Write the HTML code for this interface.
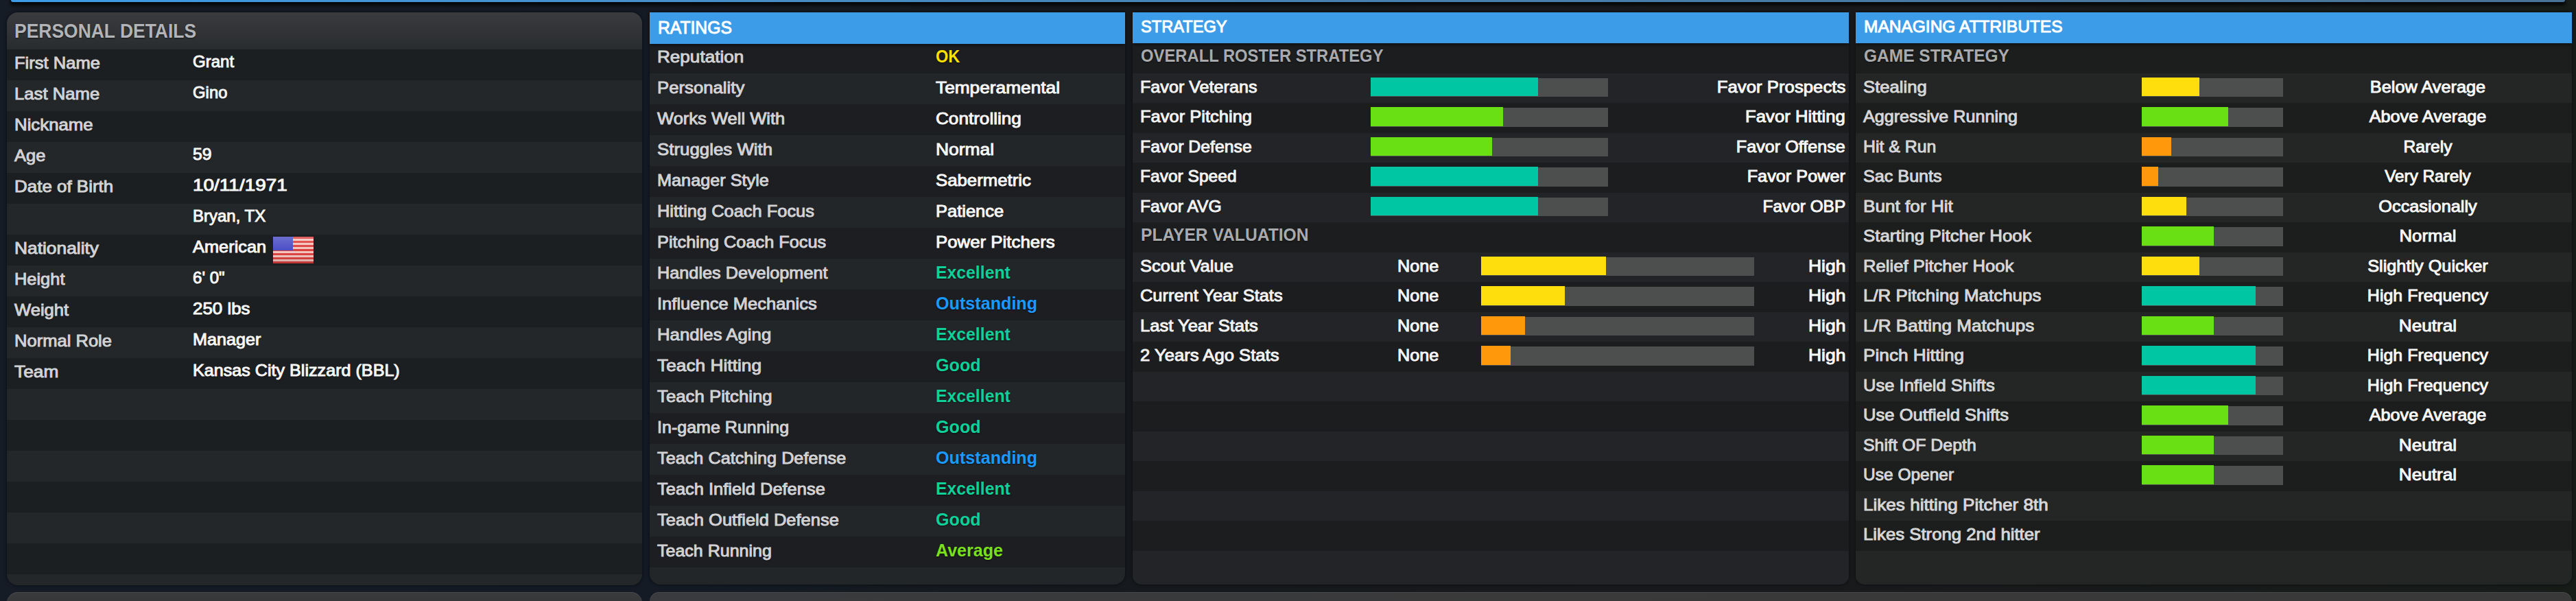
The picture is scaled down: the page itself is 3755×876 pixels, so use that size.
<!DOCTYPE html>
<html lang="en">
<head>
<meta charset="utf-8">
<title>Grant Gino - Manager Profile</title>
<style>
html,body{margin:0;padding:0}
body{width:3755px;height:876px;overflow:hidden;position:relative;background:linear-gradient(90deg,#151c26 0,#141b25 25%,#16191d 44%,#191a1c 72%,#171c19 100%);font-family:"Liberation Sans",sans-serif;font-size:24.5px;color:#f6f6f6;-webkit-text-stroke:1px currentColor;text-shadow:0 1px 2px rgba(0,0,0,.55)}
.topbar{position:absolute;left:16px;top:0;width:3723px;height:3px;border-radius:0 0 6px 6px;background:linear-gradient(90deg,#3c9ce8 0,#4690cc 25%,#467fae 55%,#4a7396 100%);box-shadow:0 1px 2px 1px #06080a,0 4px 4px 1px rgba(4,5,6,.9)}
.panel{position:absolute;top:18px;border-radius:16px;overflow:hidden;background:#1c1d20;box-shadow:0 0 5px rgba(0,0,0,.6)}
.p1{left:10px;width:926px;height:835px}
.p2{left:947px;width:693px;height:834px;border-radius:0 0 16px 16px}
.p3{left:1650.5px;width:1044px;height:834px;border-radius:0 0 13px 13px}
.p4{left:2704.5px;width:1044px;height:834px;border-radius:0 0 13px 13px}
.nb1{left:10px;top:863px;width:926px;height:60px;background:linear-gradient(#3a3b3d,#2a2c2f);box-shadow:inset 0 1px 0 #48494c}
.nb2{left:947px;top:862.5px;width:2801.5px;height:60px;border-radius:14px;background:linear-gradient(90deg,rgba(58,59,62,1),rgba(57,57,57,1) 60%) ;box-shadow:inset 0 1px 0 #48494c}
h2{margin:0;font-weight:normal;font-size:inherit}
.hd{position:absolute;left:0;top:0;right:0;box-sizing:border-box;white-space:nowrap}
.hd.grey{height:54px;background:linear-gradient(#3a3b3e,#292c2f);color:#b3b4b7;padding-left:11px;line-height:54.75px;font-size:29.5px;font-weight:bold;-webkit-text-stroke:0}
.hd.blue{height:44.6px;background:#3c9ce8;color:#fff;text-shadow:none;padding-left:12.5px;line-height:41.3px;box-shadow:0 2px 5px rgba(0,0,0,.55)}
.p2 .hd.blue{font-size:25px;height:46.1px;line-height:45px;padding-left:11.5px}
.rows{position:absolute;left:0;right:0}
.p1 .rows{top:54px}
.p2 .rows{top:44px}
.p3 .rows,.p4 .rows{top:45.3px}
.row{position:relative;white-space:nowrap;background:#1c1d20}
.row:nth-child(even){background:#232427}
.p1{background:#1c1f22}.p1 .row{background:#1c1f22}.p1 .row:nth-child(even){background:#23272a}
.p2{background:#1c1e21}.p2 .row{background:#1c1e21}.p2 .row:nth-child(even){background:#232629}
.p3{background:#232427}.p3 .row{background:#1c1d1f}.p3 .row:nth-child(even){background:#232427}
.p4{background:#242625}.p4 .row{background:#1c1e1d}.p4 .row:nth-child(even){background:#242625}
.r45 .row{height:45px;line-height:39.8px}
.p2 .row{line-height:42.2px}
.r43 .row{height:43.5px;line-height:39.9px}
.row span{position:absolute;top:0;transform-origin:0 50%}
.hd span{display:inline-block;transform-origin:0 50%}
.lab{left:11px;color:#d2d2d4}
.p3 .lab,.p4 .lab{left:11.5px;color:#f2f2f3}
.p4 .lab{color:#d6d6d7}
.val{left:270.5px;color:#f6f6f6;margin-top:-1.9px}
.p2 .val{left:417px;margin-top:0}
.flag{position:absolute;left:388px;top:3px}
.sub{left:12.5px;font-weight:bold;font-size:25px;color:#a9aaad;-webkit-text-stroke:0;margin-top:-1.7px}
.rt{right:4.5px;text-align:right;transform-origin:100% 50% !important}
.none{left:386.5px}
.ctr{left:634.7px;width:400px;text-align:center;transform-origin:50% 50% !important}
.bar{background:#4d4e4e;height:27.5px;top:7px !important}
.bar i{position:absolute;left:0;top:-1px;height:27.6px}
.b1{left:347.5px;width:345.5px}
.b2{left:508px;width:398px}
.b3{left:417px;width:206.5px}
.teal{background:#00c6a3}.green{background:#68e014}.yellow{background:#ffde0e}.orange{background:#ff980a}
.c-y{color:#ffe000}.c-w{color:#f6f6f6}.c-t{color:#10d099}.c-b{color:#1a9aff}.c-g{color:#7be01c}
.val.c-y,.val.c-t,.val.c-b,.val.c-g{font-weight:bold;font-size:25px;margin-top:-.6px;-webkit-text-stroke:0}

</style>
</head>
<body>
<div class="topbar"></div>
<section class="panel p1">
<h2 class="hd grey"><span style="transform:scaleX(0.897)">PERSONAL DETAILS</span></h2>
<div class="rows r45">
<div class="row"><span class="lab" style="transform:scaleX(1.043)">First Name</span><span class="val" style="transform:scaleX(0.982)">Grant</span></div>
<div class="row"><span class="lab" style="transform:scaleX(1.048)">Last Name</span><span class="val" style="transform:scaleX(0.975)">Gino</span></div>
<div class="row"><span class="lab" style="transform:scaleX(1.053)">Nickname</span></div>
<div class="row"><span class="lab" style="transform:scaleX(1.041)">Age</span><span class="val" style="transform:scaleX(1.013)">59</span></div>
<div class="row"><span class="lab" style="transform:scaleX(1.059)">Date of Birth</span><span class="val" style="transform:scaleX(1.141)">10/11/1971</span></div>
<div class="row"><span class="val" style="transform:scaleX(0.979)">Bryan, TX</span></div>
<div class="row"><span class="lab" style="transform:scaleX(1.075)">Nationality</span><span class="val" style="transform:scaleX(1.036)">American</span><svg class="flag" width="59" height="39" viewBox="0 0 59 39"><use href="#usflag"/></svg></div>
<div class="row"><span class="lab" style="transform:scaleX(1.037)">Height</span><span class="val" style="transform:scaleX(0.984)">6' 0&quot;</span></div>
<div class="row"><span class="lab" style="transform:scaleX(1.044)">Weight</span><span class="val" style="transform:scaleX(1.058)">250 lbs</span></div>
<div class="row"><span class="lab" style="transform:scaleX(1.043)">Normal Role</span><span class="val" style="transform:scaleX(1.029)">Manager</span></div>
<div class="row"><span class="lab" style="transform:scaleX(1.074)">Team</span><span class="val" style="transform:scaleX(1.026)">Kansas City Blizzard (BBL)</span></div>
<div class="row"></div>
<div class="row"></div>
<div class="row"></div>
<div class="row"></div>
<div class="row"></div>
<div class="row"></div>
<div class="row"></div>
</div>
</section>
<section class="panel p2">
<div class="rows r45">
<div class="row"><span class="lab" style="transform:scaleX(1.065)">Reputation</span><span class="val c-y" style="transform:scaleX(0.94)">OK</span></div>
<div class="row"><span class="lab" style="transform:scaleX(1.05)">Personality</span><span class="val c-w" style="transform:scaleX(1.072)">Temperamental</span></div>
<div class="row"><span class="lab" style="transform:scaleX(1.042)">Works Well With</span><span class="val c-w" style="transform:scaleX(1.066)">Controlling</span></div>
<div class="row"><span class="lab" style="transform:scaleX(1.055)">Struggles With</span><span class="val c-w" style="transform:scaleX(1.078)">Normal</span></div>
<div class="row"><span class="lab" style="transform:scaleX(1.031)">Manager Style</span><span class="val c-w" style="transform:scaleX(1.051)">Sabermetric</span></div>
<div class="row"><span class="lab" style="transform:scaleX(1.038)">Hitting Coach Focus</span><span class="val c-w" style="transform:scaleX(1.04)">Patience</span></div>
<div class="row"><span class="lab" style="transform:scaleX(1.033)">Pitching Coach Focus</span><span class="val c-w" style="transform:scaleX(1.054)">Power Pitchers</span></div>
<div class="row"><span class="lab" style="transform:scaleX(1.031)">Handles Development</span><span class="val c-t" style="transform:scaleX(0.991)">Excellent</span></div>
<div class="row"><span class="lab" style="transform:scaleX(1.042)">Influence Mechanics</span><span class="val c-b" style="transform:scaleX(1.006)">Outstanding</span></div>
<div class="row"><span class="lab" style="transform:scaleX(1.052)">Handles Aging</span><span class="val c-t" style="transform:scaleX(0.991)">Excellent</span></div>
<div class="row"><span class="lab" style="transform:scaleX(1.074)">Teach Hitting</span><span class="val c-t" style="transform:scaleX(1.005)">Good</span></div>
<div class="row"><span class="lab" style="transform:scaleX(1.052)">Teach Pitching</span><span class="val c-t" style="transform:scaleX(0.991)">Excellent</span></div>
<div class="row"><span class="lab" style="transform:scaleX(1.022)">In-game Running</span><span class="val c-t" style="transform:scaleX(1.005)">Good</span></div>
<div class="row"><span class="lab" style="transform:scaleX(1.031)">Teach Catching Defense</span><span class="val c-b" style="transform:scaleX(1.006)">Outstanding</span></div>
<div class="row"><span class="lab" style="transform:scaleX(1.039)">Teach Infield Defense</span><span class="val c-t" style="transform:scaleX(0.991)">Excellent</span></div>
<div class="row"><span class="lab" style="transform:scaleX(1.04)">Teach Outfield Defense</span><span class="val c-t" style="transform:scaleX(1.005)">Good</span></div>
<div class="row"><span class="lab" style="transform:scaleX(1.021)">Teach Running</span><span class="val c-g" style="transform:scaleX(1.002)">Average</span></div>
<div class="row"></div>
</div>
<h2 class="hd blue"><span style="transform:scaleX(0.987)">RATINGS</span></h2>
</section>
<section class="panel p3">
<div class="rows r43">
<div class="row"><span class="sub" style="transform:scaleX(0.952)">OVERALL ROSTER STRATEGY</span></div>
<div class="row"><span class="lab" style="transform:scaleX(1.026)">Favor Veterans</span><span class="bar b1"><i class="teal" style="width:243.6px"></i></span><span class="rt" style="transform:scaleX(1.052)">Favor Prospects</span></div>
<div class="row"><span class="lab" style="transform:scaleX(1.041)">Favor Pitching</span><span class="bar b1"><i class="green" style="width:192.6px"></i></span><span class="rt" style="transform:scaleX(1.05)">Favor Hitting</span></div>
<div class="row"><span class="lab" style="transform:scaleX(1.013)">Favor Defense</span><span class="bar b1"><i class="green" style="width:176.6px"></i></span><span class="rt" style="transform:scaleX(1.027)">Favor Offense</span></div>
<div class="row"><span class="lab" style="transform:scaleX(1.002)">Favor Speed</span><span class="bar b1"><i class="teal" style="width:243.6px"></i></span><span class="rt" style="transform:scaleX(1.031)">Favor Power</span></div>
<div class="row"><span class="lab" style="transform:scaleX(1.006)">Favor AVG</span><span class="bar b1"><i class="teal" style="width:243.6px"></i></span><span class="rt" style="transform:scaleX(0.996)">Favor OBP</span></div>
<div class="row"><span class="sub" style="transform:scaleX(0.985)">PLAYER VALUATION</span></div>
<div class="row"><span class="lab" style="transform:scaleX(1.043)">Scout Value</span><span class="none" style="transform:scaleX(1.029)">None</span><span class="bar b2"><i class="yellow" style="width:182.6px"></i></span><span class="rt" style="transform:scaleX(1.081)">High</span></div>
<div class="row"><span class="lab" style="transform:scaleX(1.037)">Current Year Stats</span><span class="none" style="transform:scaleX(1.029)">None</span><span class="bar b2"><i class="yellow" style="width:122.6px"></i></span><span class="rt" style="transform:scaleX(1.081)">High</span></div>
<div class="row"><span class="lab" style="transform:scaleX(1.043)">Last Year Stats</span><span class="none" style="transform:scaleX(1.029)">None</span><span class="bar b2"><i class="orange" style="width:64.6px"></i></span><span class="rt" style="transform:scaleX(1.081)">High</span></div>
<div class="row"><span class="lab" style="transform:scaleX(1.047)">2 Years Ago Stats</span><span class="none" style="transform:scaleX(1.029)">None</span><span class="bar b2"><i class="orange" style="width:43.6px"></i></span><span class="rt" style="transform:scaleX(1.081)">High</span></div>
<div class="row"></div>
<div class="row"></div>
<div class="row"></div>
<div class="row"></div>
<div class="row"></div>
<div class="row"></div>
<div class="row"></div>
</div>
<h2 class="hd blue"><span style="transform:scaleX(0.964)">STRATEGY</span></h2>
</section>
<section class="panel p4">
<div class="rows r43">
<div class="row"><span class="sub" style="transform:scaleX(0.98)">GAME STRATEGY</span></div>
<div class="row"><span class="lab" style="transform:scaleX(1.048)">Stealing</span><span class="bar b3"><i class="yellow" style="width:84.6px"></i></span><span class="ctr" style="transform:scaleX(1.033)">Below Average</span></div>
<div class="row"><span class="lab" style="transform:scaleX(1.026)">Aggressive Running</span><span class="bar b3"><i class="green" style="width:126.6px"></i></span><span class="ctr" style="transform:scaleX(1.028)">Above Average</span></div>
<div class="row"><span class="lab" style="transform:scaleX(1.014)">Hit &amp; Run</span><span class="bar b3"><i class="orange" style="width:43.6px"></i></span><span class="ctr" style="transform:scaleX(1.004)">Rarely</span></div>
<div class="row"><span class="lab" style="transform:scaleX(1.027)">Sac Bunts</span><span class="bar b3"><i class="orange" style="width:24.6px"></i></span><span class="ctr" style="transform:scaleX(0.991)">Very Rarely</span></div>
<div class="row"><span class="lab" style="transform:scaleX(1.068)">Bunt for Hit</span><span class="bar b3"><i class="yellow" style="width:65.6px"></i></span><span class="ctr" style="transform:scaleX(1.032)">Occasionally</span></div>
<div class="row"><span class="lab" style="transform:scaleX(1.057)">Starting Pitcher Hook</span><span class="bar b3"><i class="green" style="width:105.6px"></i></span><span class="ctr" style="transform:scaleX(1.051)">Normal</span></div>
<div class="row"><span class="lab" style="transform:scaleX(1.046)">Relief Pitcher Hook</span><span class="bar b3"><i class="yellow" style="width:84.6px"></i></span><span class="ctr" style="transform:scaleX(1.031)">Slightly Quicker</span></div>
<div class="row"><span class="lab" style="transform:scaleX(1.058)">L/R Pitching Matchups</span><span class="bar b3"><i class="teal" style="width:166.6px"></i></span><span class="ctr" style="transform:scaleX(1.019)">High Frequency</span></div>
<div class="row"><span class="lab" style="transform:scaleX(1.064)">L/R Batting Matchups</span><span class="bar b3"><i class="green" style="width:105.6px"></i></span><span class="ctr" style="transform:scaleX(1.068)">Neutral</span></div>
<div class="row"><span class="lab" style="transform:scaleX(1.07)">Pinch Hitting</span><span class="bar b3"><i class="teal" style="width:166.6px"></i></span><span class="ctr" style="transform:scaleX(1.019)">High Frequency</span></div>
<div class="row"><span class="lab" style="transform:scaleX(1.043)">Use Infield Shifts</span><span class="bar b3"><i class="teal" style="width:166.6px"></i></span><span class="ctr" style="transform:scaleX(1.019)">High Frequency</span></div>
<div class="row"><span class="lab" style="transform:scaleX(1.045)">Use Outfield Shifts</span><span class="bar b3"><i class="green" style="width:126.6px"></i></span><span class="ctr" style="transform:scaleX(1.028)">Above Average</span></div>
<div class="row"><span class="lab" style="transform:scaleX(1.017)">Shift OF Depth</span><span class="bar b3"><i class="green" style="width:105.6px"></i></span><span class="ctr" style="transform:scaleX(1.068)">Neutral</span></div>
<div class="row"><span class="lab">Use Opener</span><span class="bar b3"><i class="green" style="width:105.6px"></i></span><span class="ctr" style="transform:scaleX(1.068)">Neutral</span></div>
<div class="row"><span class="lab" style="transform:scaleX(1.065)">Likes hitting Pitcher 8th</span></div>
<div class="row"><span class="lab" style="transform:scaleX(1.051)">Likes Strong 2nd hitter</span></div>
<div class="row"></div>
</div>
<h2 class="hd blue"><span>MANAGING ATTRIBUTES</span></h2>
</section>
<div class="panel nb1"></div>
<div class="panel nb2"></div>
<svg width="0" height="0" style="position:absolute" aria-hidden="true">
<defs>
<linearGradient id="fgl" x1="0" y1="0" x2="0" y2="1"><stop offset="0" stop-color="#fff" stop-opacity=".18"/><stop offset=".5" stop-color="#fff" stop-opacity="0"/><stop offset="1" stop-color="#000" stop-opacity=".15"/></linearGradient>
<g id="usflag">
<rect width="59" height="39" fill="#f3c3bd"/>
<g fill="#dc3f3c">
<rect y="0" width="59" height="3"/><rect y="6" width="59" height="3"/><rect y="12" width="59" height="3"/><rect y="18" width="59" height="3"/><rect y="24" width="59" height="3"/><rect y="30" width="59" height="3"/><rect y="36" width="59" height="3"/>
</g>
<rect width="29" height="20" fill="#4b4fc4"/>
<rect width="59" height="39" fill="url(#fgl)"/>
</g>
</defs>
</svg>
</body>
</html>
